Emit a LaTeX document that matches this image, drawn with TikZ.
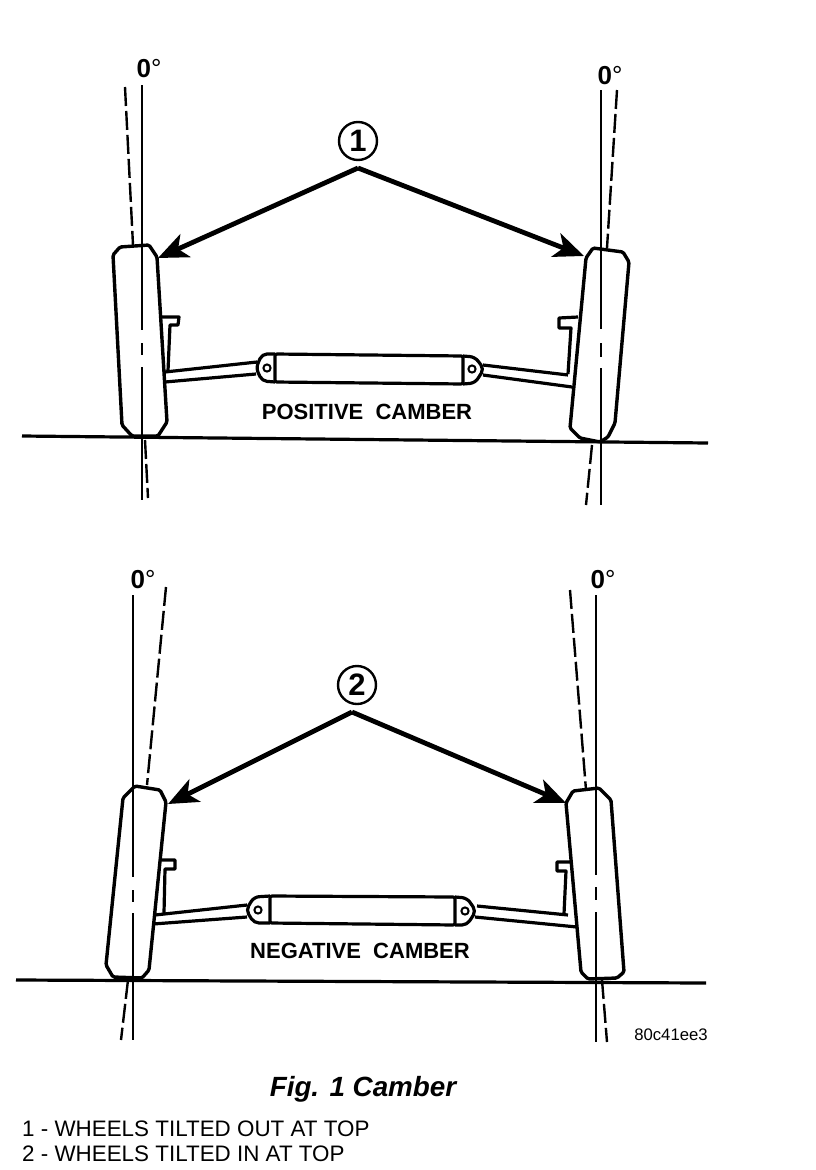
\documentclass[tikz,border=0pt]{standalone}
\usepackage{fontspec}
\setmainfont{Liberation Sans}
\usepackage{tikz}
\usetikzlibrary{arrows.meta}
\tikzstyle{wheel}=[draw, line width=3.4pt, fill=white, rounded corners=1.5pt]
\tikzstyle{axis}=[draw, line width=2.2pt]
\tikzstyle{tilt}=[draw, line width=2.4pt, dash pattern=on 19pt off 5pt]
\tikzstyle{ground}=[draw, line width=3.2pt]
\tikzstyle{part}=[draw, line width=3.2pt, line join=round]
\tikzstyle{pointer}=[draw, line width=4.8pt, -{Stealth[length=30pt, width=25pt, inset=8pt]}]
\tikzstyle{callout}=[draw, circle, line width=2.4pt, minimum size=38pt, inner sep=0pt, font=\fontsize{31}{31}\selectfont\bfseries]
\tikzstyle{angle}=[inner sep=0pt, font=\fontsize{26}{26}\selectfont\bfseries]
\tikzstyle{title}=[inner sep=0pt, font=\fontsize{22}{22}\selectfont\bfseries]
\tikzstyle{caption}=[inner sep=0pt, anchor=west, font=\fontsize{22.4}{23}\selectfont]

\begin{document}
\begin{tikzpicture}[x=1pt, y=-1pt]
        \useasboundingbox (0, 0) rectangle (816, 1170);
        % positive camber
        \draw[tilt] (125, 87) -- (133, 245);
        \draw[tilt] (145, 440) -- (148, 498);
        \draw[tilt] (617, 90) -- (607, 248);
        \draw[tilt] (592, 445) -- (586, 505);
        \draw[part] (158, 317) -- (179, 317) -- (178, 325) -- (170, 325) -- (168, 371);
        \draw[part] (578, 317) -- (559, 318) -- (559, 328) -- (571, 328) -- (568, 374);
        \draw[part] (165, 372) -- (257, 362);
        \draw[part] (165, 382) -- (256, 374);
        \draw[part] (483, 365) -- (568, 375);
        \draw[part] (483, 375) -- (572, 387);
        \draw[part, rounded corners=2pt] (275, 354) -- (463, 356) -- (463, 384) -- (275, 382) -- cycle;
        \draw[part, rounded corners=5pt] (275, 354) -- (262, 354) -- (256, 368) -- (262, 381) -- (275, 382);
        \draw[part, rounded corners=5pt] (463, 356) -- (475, 357) -- (484, 369) -- (475, 383) -- (463, 384);
        \draw[line width=2pt] (267, 368) circle (3.6);
        \draw[line width=2pt] (472, 369) circle (3.6);
        \path[wheel] (113, 255) -- (120, 247) -- (149, 245) -- (157, 257) -- (167, 422) -- (158, 436) -- (132, 436) -- (122, 425) -- cycle;
        \path[wheel] (586, 258) -- (593, 248) -- (623, 252) -- (629, 262) -- (615, 423) -- (608, 437) -- (600, 442) -- (580, 438) -- (570, 428) -- cycle;
        \draw[axis] (142, 85) -- (142, 330) (142, 343) -- (142, 355) (142, 367) -- (142, 500);
        \draw[axis] (601, 90) -- (601, 329) (601, 343) -- (601, 357) (601, 368) -- (601, 505);
        \draw[ground] (22, 436) -- (708, 443);

        \node[callout] (One) at (358, 141) {1};
        \coordinate (OneApex) at (358, 168);
        \coordinate (OneLeft) at (158, 258);
        \coordinate (OneRight) at (584, 256);
        \draw[pointer] (OneApex) -- (OneLeft);
        \draw[pointer] (OneApex) -- (OneRight);
        \node[angle] (PosLeftZero) at (149, 69) {0{\mdseries °}};
        \node[angle] (PosRightZero) at (610, 76) {0{\mdseries °}};
        \node[title] (PosTitle) at (367, 412) {POSITIVE\ \ CAMBER};

        % negative camber
        \draw[tilt] (166, 587) -- (147, 785);
        \draw[tilt] (128, 980) -- (121, 1040);
        \draw[tilt] (570, 590) -- (586, 790);
        \draw[tilt] (602, 980) -- (607, 1042);
        \draw[part] (160, 860) -- (175, 860) -- (175, 869) -- (165, 869) -- (164, 913);
        \draw[part] (572, 862) -- (557, 862) -- (557, 871) -- (566, 871) -- (564, 914);
        \draw[part] (155, 915) -- (247, 905);
        \draw[part] (153, 924) -- (247, 917);
        \draw[part] (477, 906) -- (568, 915);
        \draw[part] (475, 917) -- (577, 927);
        \draw[part, rounded corners=2pt] (270, 896) -- (455, 897) -- (455, 925) -- (270, 923) -- cycle;
        \draw[part, rounded corners=5pt] (270, 896) -- (254, 897) -- (246, 910) -- (254, 923) -- (270, 923);
        \draw[part, rounded corners=5pt] (455, 897) -- (467, 898) -- (476, 911) -- (467, 925) -- (455, 925);
        \draw[line width=2pt] (258, 910) circle (3.6);
        \draw[line width=2pt] (465, 911) circle (3.6);
        \path[wheel] (123, 798) -- (135, 786) -- (160, 790) -- (166, 802) -- (149, 970) -- (142, 978) -- (113, 977) -- (106, 965) -- cycle;
        \path[wheel] (566, 803) -- (573, 791) -- (599, 788) -- (611, 800) -- (624, 972) -- (617, 978) -- (588, 979) -- (581, 972) -- cycle;
        \draw[axis] (133, 595) -- (133, 877) (133, 890) -- (133, 902) (133, 913) -- (133, 1040);
        \draw[axis] (596, 595) -- (596, 875) (596, 887) -- (596, 900) (596, 912) -- (596, 1042);
        \draw[ground] (16, 980) -- (706, 983);

        \node[callout] (Two) at (357, 685) {2};
        \coordinate (TwoApex) at (352, 712);
        \coordinate (TwoLeft) at (168, 804);
        \coordinate (TwoRight) at (566, 803);
        \draw[pointer] (TwoApex) -- (TwoLeft);
        \draw[pointer] (TwoApex) -- (TwoRight);
        \node[angle] (NegLeftZero) at (143, 580) {0{\mdseries °}};
        \node[angle] (NegRightZero) at (603, 580) {0{\mdseries °}};
        \node[title] (NegTitle) at (360, 951) {NEGATIVE\ \ CAMBER};

        \node[inner sep=0pt, font=\fontsize{16.7}{17}\selectfont] (Code) at (671, 1035) {80c41ee3};
        \node[inner sep=0pt, font=\fontsize{27.8}{28}\selectfont\bfseries\itshape] (Fig) at (363, 1089) {Fig. 1 Camber};
        \node[caption] (CapOne) at (22, 1129) {1 - WHEELS TILTED OUT AT TOP};
        \node[caption] (CapTwo) at (22, 1154) {2 - WHEELS TILTED IN AT TOP};
    \end{tikzpicture}
\end{document}
